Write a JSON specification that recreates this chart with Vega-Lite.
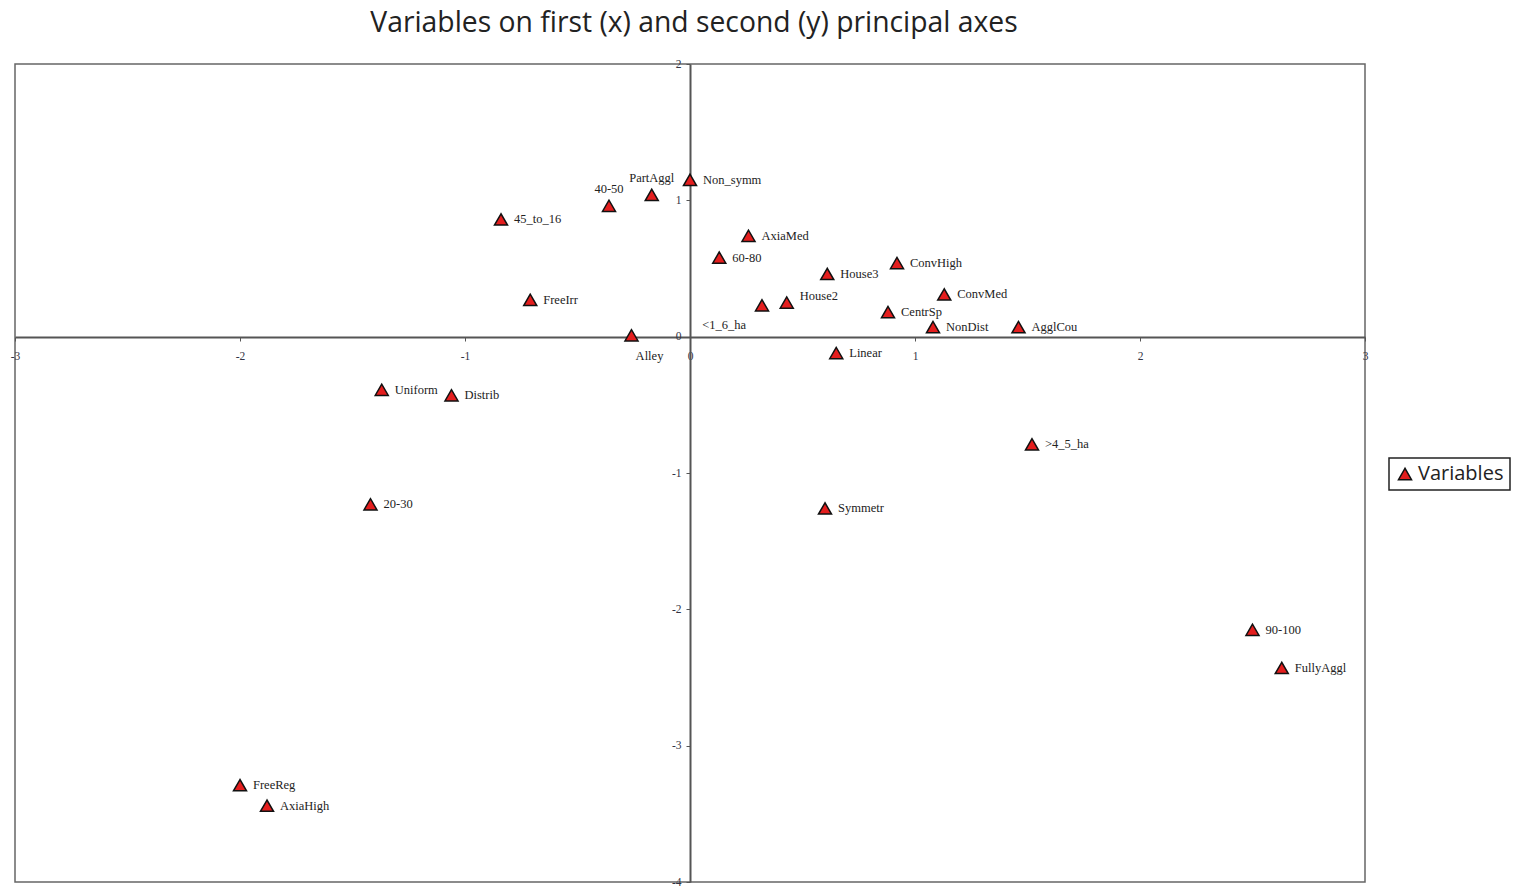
{
  "$schema": "https://vega.github.io/schema/vega-lite/v6.json",
  "width": 1350,
  "height": 818,
  "autosize": {"type": "none"},
  "padding": {"left": 15, "top": 64, "right": 152, "bottom": 7},
  "background": "white",
  "title": {
    "text": "Variables on first (x) and second (y) principal axes",
    "font": "Open Sans",
    "fontSize": 28.3,
    "fontWeight": "normal",
    "color": "#222222",
    "anchor": "middle",
    "offset": 20,
    "dx": 4
  },
  "config": {
    "view": {"stroke": "#666666", "strokeWidth": 1.5},
    "axis": {
      "grid": false,
      "labelFont": "Liberation Serif",
      "labelFontSize": 11.5,
      "labelColor": "#333344",
      "labelExpr": "'' + datum.value",
      "domainColor": "#555555",
      "domainWidth": 2,
      "tickColor": "#555555",
      "tickSize": 4,
      "labelFlush": false,
      "labelOverlap": false,
      "title": null
    }
  },
  "data": {
    "values": [
      {"name": "Non_symm", "x": 0.0, "y": 1.15},
      {"name": "PartAggl", "x": -0.17, "y": 1.04},
      {"name": "40-50", "x": -0.36, "y": 0.96},
      {"name": "45_to_16", "x": -0.84, "y": 0.86},
      {"name": "AxiaMed", "x": 0.26, "y": 0.74},
      {"name": "60-80", "x": 0.13, "y": 0.58},
      {"name": "House3", "x": 0.61, "y": 0.46},
      {"name": "ConvHigh", "x": 0.92, "y": 0.54},
      {"name": "ConvMed", "x": 1.13, "y": 0.31},
      {"name": "House2", "x": 0.43, "y": 0.25},
      {"name": "<1_6_ha", "x": 0.32, "y": 0.23},
      {"name": "CentrSp", "x": 0.88, "y": 0.18},
      {"name": "NonDist", "x": 1.08, "y": 0.07},
      {"name": "AgglCou", "x": 1.46, "y": 0.07},
      {"name": "FreeIrr", "x": -0.71, "y": 0.27},
      {"name": "Alley", "x": -0.26, "y": 0.01},
      {"name": "Linear", "x": 0.65, "y": -0.12},
      {"name": "Uniform", "x": -1.37, "y": -0.39},
      {"name": "Distrib", "x": -1.06, "y": -0.43},
      {"name": "20-30", "x": -1.42, "y": -1.23},
      {"name": ">4_5_ha", "x": 1.52, "y": -0.79},
      {"name": "Symmetr", "x": 0.60, "y": -1.26},
      {"name": "90-100", "x": 2.50, "y": -2.15},
      {"name": "FullyAggl", "x": 2.63, "y": -2.43},
      {"name": "FreeReg", "x": -2.00, "y": -3.29},
      {"name": "AxiaHigh", "x": -1.88, "y": -3.44}
    ]
  },
  "encoding": {
    "x": {
      "field": "x",
      "type": "quantitative",
      "scale": {"domain": [-3, 3], "nice": false, "zero": false},
      "axis": {"orient": "bottom", "offset": -545, "values": [-3, -2, -1, 0, 1, 2, 3], "labelPadding": 9}
    },
    "y": {
      "field": "y",
      "type": "quantitative",
      "scale": {"domain": [-4, 2], "nice": false, "zero": false},
      "axis": {"orient": "left", "offset": -675, "values": [-4, -3, -2, -1, 0, 1, 2], "labelPadding": 5}
    }
  },
  "layer": [
    {
      "mark": {"type": "point", "shape": "triangle-up", "filled": true, "size": 170, "stroke": "#111111", "strokeWidth": 1.5, "opacity": 1},
      "encoding": {
        "fill": {
          "datum": "Variables",
          "scale": {"range": ["#e41e1e"]},
          "legend": {
            "title": null,
            "orient": "none",
            "legendX": 1374,
            "legendY": 394,
            "padding": 6,
            "strokeColor": "#222222",
            "symbolType": "triangle-up",
            "symbolSize": 170,
            "symbolStrokeColor": "#111111",
            "symbolStrokeWidth": 1.5,
            "symbolOpacity": 1,
            "labelFont": "Open Sans",
            "labelFontSize": 20,
            "labelColor": "#222222",
            "labelOffset": 3,
            "encode": {"legend": {"update": {"strokeWidth": {"value": 1.5}}}}
          }
        }
      }
    },
    {
      "transform": [{"filter": {"not": {"field": "name", "oneOf": ["40-50", "PartAggl", "<1_6_ha", "Alley", "House2"]}}}],
      "mark": {"type": "text", "align": "left", "baseline": "middle", "dx": 13, "font": "Liberation Serif", "fontSize": 12.5, "color": "#222222"},
      "encoding": {"text": {"field": "name"}}
    },
    {
      "transform": [{"filter": {"field": "name", "oneOf": ["House2"]}}],
      "mark": {"type": "text", "align": "left", "baseline": "middle", "dx": 13, "dy": -7, "font": "Liberation Serif", "fontSize": 12.5, "color": "#222222"},
      "encoding": {"text": {"field": "name"}}
    },
    {
      "transform": [{"filter": {"field": "name", "oneOf": ["40-50", "PartAggl"]}}],
      "mark": {"type": "text", "align": "center", "baseline": "middle", "dy": -17, "font": "Liberation Serif", "fontSize": 12.5, "color": "#222222"},
      "encoding": {"text": {"field": "name"}}
    },
    {
      "transform": [{"filter": {"field": "name", "oneOf": ["<1_6_ha"]}}],
      "mark": {"type": "text", "align": "right", "baseline": "middle", "dx": -16, "dy": 20, "font": "Liberation Serif", "fontSize": 12.5, "color": "#222222"},
      "encoding": {"text": {"field": "name"}}
    },
    {
      "transform": [{"filter": {"field": "name", "oneOf": ["Alley"]}}],
      "mark": {"type": "text", "align": "center", "baseline": "middle", "dx": 18, "dy": 21, "font": "Liberation Serif", "fontSize": 12.5, "color": "#222222"},
      "encoding": {"text": {"field": "name"}}
    }
  ]
}
